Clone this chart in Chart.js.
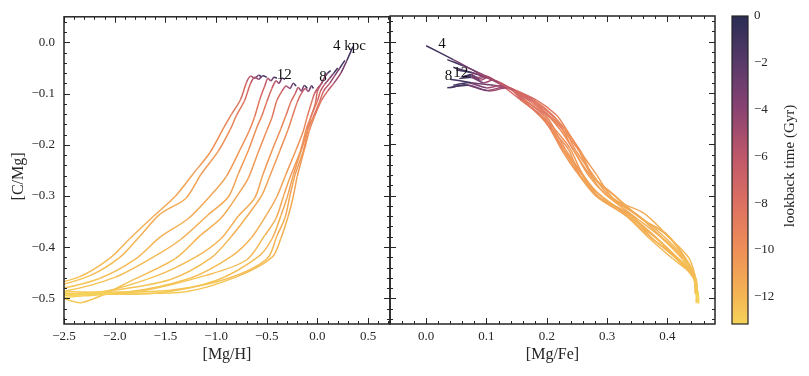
<!DOCTYPE html>
<html>
<head>
<meta charset="utf-8">
<script src="https://cdn.jsdelivr.net/npm/chart.js@4.4.1/dist/chart.umd.min.js"></script>
<style>
  html, body { margin: 0; padding: 0; background: #fff; }
  #wrap { position: relative; width: 809px; height: 376px; }
  #wrap canvas { position: absolute; left: 0; top: 0; }
</style>
</head>
<body>
<div id="wrap">
  <canvas id="left" width="809" height="376"></canvas>
  <canvas id="right" width="809" height="376"></canvas>
  <canvas id="cbar" width="809" height="376"></canvas>
</div>
<script>
// time grid shared by every track (Gyr, lookback)
const lookbackTime = [-13.2, -13.0, -12.7, -12.4, -12.1, -11.8, -11.5, -11.2, -10.8, -10.3, -9.7, -9.0, -8.0, -6.8, -5.5, -4.0, -2.2, 0.0];

const radii = [4, 5, 6, 7, 8, 9, 10, 11, 12, 13, 14, 15];

// [Mg/H] per radius
const mgH = [
  [-3.2, -2.0, -1.3, -0.8, -0.45, -0.36, -0.29, -0.24, -0.2, -0.13, -0.08, -0.03, 0.04, 0.1, 0.16, 0.23, 0.29, 0.35],
  [-3.2, -2.1, -1.45, -0.9, -0.5, -0.4, -0.32, -0.27, -0.22, -0.14, -0.09, -0.045, 0.02, 0.06, 0.12, 0.17, 0.22, 0.27],
  [-3.2, -2.2, -1.6, -1.0, -0.58, -0.45, -0.36, -0.3, -0.24, -0.155, -0.1, -0.06, 0.0, 0.03, 0.07, 0.12, 0.16, 0.2],
  [-3.2, -2.3, -1.75, -1.1, -0.7, -0.52, -0.41, -0.33, -0.27, -0.17, -0.11, -0.07, -0.02, 0.0, 0.04, 0.07, 0.1, 0.13],
  [-3.2, -2.45, -1.9, -1.25, -0.85, -0.65, -0.5, -0.4, -0.31, -0.21, -0.14, -0.1, -0.05, -0.03, 0.0, 0.02, 0.04, 0.06],
  [-3.2, -2.6, -2.05, -1.45, -1.05, -0.85, -0.7, -0.55, -0.47, -0.37, -0.29, -0.25, -0.2, -0.16, -0.12, -0.09, -0.06, -0.04],
  [-3.2, -2.7, -2.2, -1.6, -1.2, -0.95, -0.78, -0.62, -0.54, -0.44, -0.36, -0.31, -0.26, -0.22, -0.19, -0.16, -0.13, -0.1],
  [-3.2, -2.6, -2.32, -1.8, -1.4, -1.15, -0.95, -0.78, -0.68, -0.58, -0.5, -0.45, -0.4, -0.35, -0.31, -0.27, -0.24, -0.21],
  [-3.2, -2.9, -2.5, -2.0, -1.6, -1.35, -1.08, -0.88, -0.78, -0.68, -0.6, -0.55, -0.5, -0.45, -0.41, -0.38, -0.35, -0.32],
  [-3.2, -3.0, -2.6, -2.15, -1.8, -1.55, -1.28, -1.05, -0.9, -0.76, -0.67, -0.62, -0.57, -0.52, -0.49, -0.46, -0.43, -0.4],
  [-3.2, -3.0, -2.7, -2.25, -1.95, -1.75, -1.55, -1.3, -1.15, -0.98, -0.86, -0.8, -0.72, -0.66, -0.62, -0.58, -0.54, -0.5],
  [-3.2, -3.1, -2.8, -2.35, -2.05, -1.85, -1.62, -1.4, -1.22, -1.06, -0.92, -0.85, -0.76, -0.7, -0.66, -0.62, -0.58, -0.55]
];

// [C/Mg] per radius
const cMg = [
  [-0.50, -0.49, -0.487, -0.458, -0.42, -0.382, -0.34, -0.302, -0.262, -0.21, -0.172, -0.145, -0.113, -0.095, -0.08, -0.06, -0.035, -0.008],
  [-0.505, -0.488, -0.484, -0.462, -0.423, -0.378, -0.342, -0.298, -0.258, -0.212, -0.168, -0.147, -0.116, -0.095, -0.08, -0.065, -0.05, -0.035],
  [-0.50, -0.492, -0.49, -0.465, -0.418, -0.384, -0.338, -0.303, -0.26, -0.208, -0.171, -0.143, -0.114, -0.095, -0.082, -0.07, -0.06, -0.05],
  [-0.51, -0.495, -0.486, -0.455, -0.425, -0.377, -0.344, -0.297, -0.263, -0.213, -0.169, -0.148, -0.118, -0.095, -0.08, -0.068, -0.06, -0.055],
  [-0.50, -0.487, -0.488, -0.46, -0.418, -0.381, -0.336, -0.301, -0.257, -0.209, -0.173, -0.144, -0.112, -0.1, -0.09, -0.085, -0.08, -0.073],
  [-0.505, -0.493, -0.485, -0.463, -0.421, -0.379, -0.341, -0.299, -0.261, -0.211, -0.17, -0.146, -0.117, -0.1, -0.09, -0.096, -0.085, -0.09],
  [-0.50, -0.489, -0.49, -0.457, -0.419, -0.383, -0.339, -0.304, -0.259, -0.207, -0.168, -0.142, -0.115, -0.1, -0.088, -0.095, -0.084, -0.09],
  [-0.50, -0.495, -0.508, -0.462, -0.422, -0.376, -0.343, -0.296, -0.264, -0.212, -0.172, -0.147, -0.113, -0.095, -0.085, -0.09, -0.08, -0.085],
  [-0.51, -0.49, -0.486, -0.459, -0.417, -0.385, -0.337, -0.302, -0.256, -0.21, -0.167, -0.144, -0.116, -0.09, -0.075, -0.08, -0.07, -0.072],
  [-0.50, -0.488, -0.483, -0.461, -0.424, -0.38, -0.345, -0.298, -0.262, -0.208, -0.171, -0.145, -0.112, -0.085, -0.07, -0.075, -0.068, -0.07],
  [-0.505, -0.49, -0.482, -0.456, -0.42, -0.378, -0.335, -0.305, -0.258, -0.213, -0.17, -0.143, -0.114, -0.08, -0.068, -0.072, -0.065, -0.068],
  [-0.50, -0.487, -0.48, -0.458, -0.422, -0.383, -0.34, -0.3, -0.255, -0.215, -0.165, -0.141, -0.112, -0.078, -0.066, -0.07, -0.064, -0.068]
];

// [Mg/Fe] per radius
const mgFe = [
  [0.45, 0.449, 0.448, 0.446, 0.414, 0.38, 0.336, 0.292, 0.256, 0.236, 0.21, 0.196, 0.163, 0.145, 0.12, 0.085, 0.045, 0.0],
  [0.451, 0.45, 0.449, 0.444, 0.43, 0.393, 0.356, 0.302, 0.276, 0.248, 0.228, 0.207, 0.176, 0.145, 0.12, 0.095, 0.068, 0.035],
  [0.449, 0.448, 0.447, 0.448, 0.41, 0.375, 0.331, 0.285, 0.255, 0.226, 0.207, 0.19, 0.158, 0.145, 0.122, 0.1, 0.075, 0.045],
  [0.452, 0.451, 0.45, 0.445, 0.432, 0.401, 0.356, 0.31, 0.277, 0.256, 0.229, 0.213, 0.18, 0.145, 0.12, 0.098, 0.075, 0.05],
  [0.45, 0.449, 0.447, 0.443, 0.411, 0.373, 0.337, 0.283, 0.257, 0.228, 0.209, 0.188, 0.16, 0.15, 0.135, 0.112, 0.075, 0.04],
  [0.451, 0.45, 0.449, 0.447, 0.426, 0.389, 0.353, 0.299, 0.272, 0.244, 0.225, 0.204, 0.173, 0.152, 0.135, 0.105, 0.07, 0.035],
  [0.449, 0.448, 0.446, 0.445, 0.415, 0.383, 0.339, 0.293, 0.26, 0.238, 0.212, 0.197, 0.165, 0.152, 0.133, 0.1, 0.065, 0.04],
  [0.45, 0.449, 0.448, 0.447, 0.43, 0.398, 0.355, 0.308, 0.276, 0.253, 0.227, 0.213, 0.178, 0.145, 0.128, 0.1, 0.07, 0.045],
  [0.451, 0.45, 0.448, 0.446, 0.413, 0.376, 0.339, 0.286, 0.258, 0.231, 0.21, 0.191, 0.161, 0.138, 0.112, 0.095, 0.075, 0.055],
  [0.45, 0.449, 0.447, 0.444, 0.425, 0.388, 0.35, 0.298, 0.27, 0.243, 0.222, 0.203, 0.172, 0.128, 0.103, 0.09, 0.075, 0.06],
  [0.452, 0.451, 0.449, 0.446, 0.435, 0.4, 0.362, 0.31, 0.282, 0.255, 0.232, 0.216, 0.183, 0.12, 0.1, 0.088, 0.075, 0.06],
  [0.449, 0.448, 0.447, 0.445, 0.408, 0.37, 0.332, 0.281, 0.25, 0.227, 0.203, 0.186, 0.155, 0.117, 0.097, 0.085, 0.075, 0.065]
];

// tick values
const mgHTicks = [-2.5, -2.0, -1.5, -1.0, -0.5, 0.0, 0.5];
const mgFeTicks = [0.0, 0.1, 0.2, 0.3, 0.4];
const cMgTicks = [-0.5, -0.4, -0.3, -0.2, -0.1, 0.0];
const timeTicks = [0, -2, -4, -6, -8, -10, -12];

// radius labels: text, left edge / baseline in data units
const leftLabels = ['4 kpc', '8', '12'];
const leftLabelPos = [[0.153, -0.014], [0.018, -0.075], [-0.402, -0.071]];
const rightLabels = ['4', '8', '12'];
const rightLabelPos = [[0.02, -0.013], [0.031, -0.075], [0.045, -0.069]];

// colour map for lookback time
const cmapTimes = [0, -2, -4, -6, -8, -10, -12, -13.2];
const cmapColors = [[42, 45, 84], [88, 58, 106], [138, 66, 114], [190, 88, 106], [221, 112, 98], [238, 143, 88], [244, 182, 83], [245, 212, 90]];

const FONT = '"Liberation Serif", "Times New Roman", serif';
const INK = '#262626';

function cmap(t) {
  if (t >= cmapTimes[0]) return 'rgb(' + cmapColors[0].join(',') + ')';
  for (let k = 0; k < cmapTimes.length - 1; k++) {
    const a = cmapTimes[k], b = cmapTimes[k + 1];
    if (t <= a && t >= b) {
      const f = (a - t) / (a - b);
      const c = cmapColors[k].map((v, i) => Math.round(v + (cmapColors[k + 1][i] - v) * f));
      return 'rgb(' + c.join(',') + ')';
    }
  }
  return 'rgb(' + cmapColors[cmapColors.length - 1].join(',') + ')';
}

function fmt1(v) {
  return v.toFixed(1).replace('-', '\u2212');
}

function setTicks(list) {
  return scale => { scale.ticks = list.map(v => ({ value: v })); };
}

function tracks(xs) {
  return radii.map((r, i) => ({
    label: r + ' kpc',
    data: xs[i].map((x, j) => ({ x: x, y: cMg[i][j] })),
    borderWidth: 1.5,
    pointRadius: 0,
    tension: 0.3,
    fill: false,
    borderColor: cmap(-8),
    segment: {
      borderColor: c => cmap((lookbackTime[c.p0DataIndex] + lookbackTime[c.p1DataIndex]) / 2)
    }
  }));
}

// inward ticks on all four sides, frame, labels and axis titles
const frameTicks = {
  id: 'frameTicks',
  afterDatasetsDraw(chart, args, o) {
    const { ctx, chartArea: a } = chart;
    const x = chart.scales.x, y = chart.scales.y;
    ctx.save();
    ctx.strokeStyle = INK;
    ctx.lineWidth = 1;
    const mark = (scale, minor, major, horiz) => {
      const i0 = Math.ceil(scale.min / minor - 1e-6), i1 = Math.floor(scale.max / minor + 1e-6);
      for (let i = i0; i <= i1; i++) {
        const q = i * minor / major;
        const len = Math.abs(q - Math.round(q)) < 1e-6 ? 6 : 3;
        const p = Math.round(scale.getPixelForValue(i * minor)) + 0.5;
        ctx.beginPath();
        if (horiz) {
          ctx.moveTo(p, a.bottom); ctx.lineTo(p, a.bottom - len);
          ctx.moveTo(p, a.top); ctx.lineTo(p, a.top + len);
        } else {
          ctx.moveTo(a.left, p); ctx.lineTo(a.left + len, p);
          ctx.moveTo(a.right, p); ctx.lineTo(a.right - len, p);
        }
        ctx.stroke();
      }
    };
    mark(x, o.xMinor, o.xMajor, true);
    mark(y, o.yMinor, o.yMajor, false);
    ctx.lineWidth = 1.5;
    ctx.strokeRect(a.left, a.top, a.right - a.left, a.bottom - a.top);

    ctx.fillStyle = '#111';
    ctx.font = '15px ' + FONT;
    ctx.textAlign = 'left';
    ctx.textBaseline = 'alphabetic';
    o.labels.forEach((txt, i) => {
      ctx.fillText(txt, x.getPixelForValue(o.labelPos[i][0]), y.getPixelForValue(o.labelPos[i][1]));
    });

    ctx.fillStyle = INK;
    ctx.font = '16px ' + FONT;
    ctx.textAlign = 'center';
    ctx.textBaseline = 'middle';
    ctx.fillText(o.xTitle, (a.left + a.right) / 2, 355);
    if (o.yTitle) {
      ctx.translate(19, (a.top + a.bottom) / 2 + 6);
      ctx.rotate(-Math.PI / 2);
      ctx.fillText(o.yTitle, 0, 0);
    }
    ctx.restore();
  }
};

const tickFont = { family: FONT, size: 13 };

function panel(id, xs, xMin, xMax, xTicks, pad, showY, extra) {
  return new Chart(document.getElementById(id), {
    type: 'line',
    data: { datasets: tracks(xs) },
    options: {
      responsive: false,
      animation: false,
      events: [],
      layout: { padding: pad },
      plugins: { legend: { display: false }, tooltip: { enabled: false }, frameTicks: extra },
      scales: {
        x: {
          type: 'linear', min: xMin, max: xMax,
          afterBuildTicks: setTicks(xTicks),
          afterFit: s => { s.height = 52; },
          grid: { display: false, drawTicks: false },
          border: { display: false },
          ticks: { padding: 5, color: INK, font: tickFont, maxRotation: 0, autoSkip: false, callback: fmt1 }
        },
        y: {
          type: 'linear', min: -0.55, max: 0.05, display: showY,
          afterBuildTicks: setTicks(cMgTicks),
          afterFit: s => { s.width = showY ? 64 : 0; },
          grid: { display: false, drawTicks: false },
          border: { display: false },
          ticks: { padding: 9, color: INK, font: tickFont, autoSkip: false, callback: fmt1 }
        }
      }
    },
    plugins: [frameTicks]
  });
}

panel('left', mgH, -2.5, 0.715, mgHTicks, { left: 0, right: 419, top: 16, bottom: 0 }, true, {
  xMinor: 0.1, xMajor: 0.5, yMinor: 0.02, yMajor: 0.1,
  labels: leftLabels, labelPos: leftLabelPos, xTitle: '[Mg/H]', yTitle: '[C/Mg]'
});

panel('right', mgFe, -0.06, 0.479, mgFeTicks, { left: 390, right: 94, top: 16, bottom: 0 }, false, {
  xMinor: 0.02, xMajor: 0.1, yMinor: 0.02, yMajor: 0.1,
  labels: rightLabels, labelPos: rightLabelPos, xTitle: '[Mg/Fe]', yTitle: ''
});

// colour bar
const colorBar = {
  id: 'colorBar',
  afterDraw(chart) {
    const { ctx, chartArea: a } = chart;
    const y = chart.scales.y;
    const g = ctx.createLinearGradient(0, a.top, 0, a.bottom);
    cmapTimes.forEach((t, i) => {
      const f = (y.getPixelForValue(t) - a.top) / (a.bottom - a.top);
      g.addColorStop(Math.min(1, Math.max(0, f)), 'rgb(' + cmapColors[i].join(',') + ')');
    });
    ctx.save();
    ctx.fillStyle = g;
    ctx.fillRect(a.left, a.top, a.right - a.left, a.bottom - a.top);
    ctx.strokeStyle = INK;
    ctx.lineWidth = 1.2;
    ctx.strokeRect(a.left, a.top, a.right - a.left, a.bottom - a.top);
    ctx.fillStyle = INK;
    ctx.font = '15px ' + FONT;
    ctx.textAlign = 'center';
    ctx.textBaseline = 'middle';
    ctx.translate(790, 166);
    ctx.rotate(-Math.PI / 2);
    ctx.fillText('lookback time (Gyr)', 0, 0);
    ctx.restore();
  }
};

new Chart(document.getElementById('cbar'), {
  type: 'line',
  data: { datasets: [] },
  options: {
    responsive: false,
    animation: false,
    events: [],
    layout: { padding: { left: 732, right: 0, top: 16, bottom: 52 } },
    plugins: { legend: { display: false }, tooltip: { enabled: false } },
    scales: {
      x: { type: 'linear', display: false, min: 0, max: 1 },
      y: {
        type: 'linear', position: 'right', min: -13.17, max: 0,
        afterBuildTicks: setTicks(timeTicks),
        afterFit: s => { s.width = 61; },
        grid: { display: false, drawTicks: false },
        border: { display: false },
        ticks: { padding: 6, color: INK, font: tickFont, autoSkip: false,
                 callback: v => String(Math.round(v)).replace('-', '\u2212') }
      }
    }
  },
  plugins: [colorBar]
});
</script>
</body>
</html>
